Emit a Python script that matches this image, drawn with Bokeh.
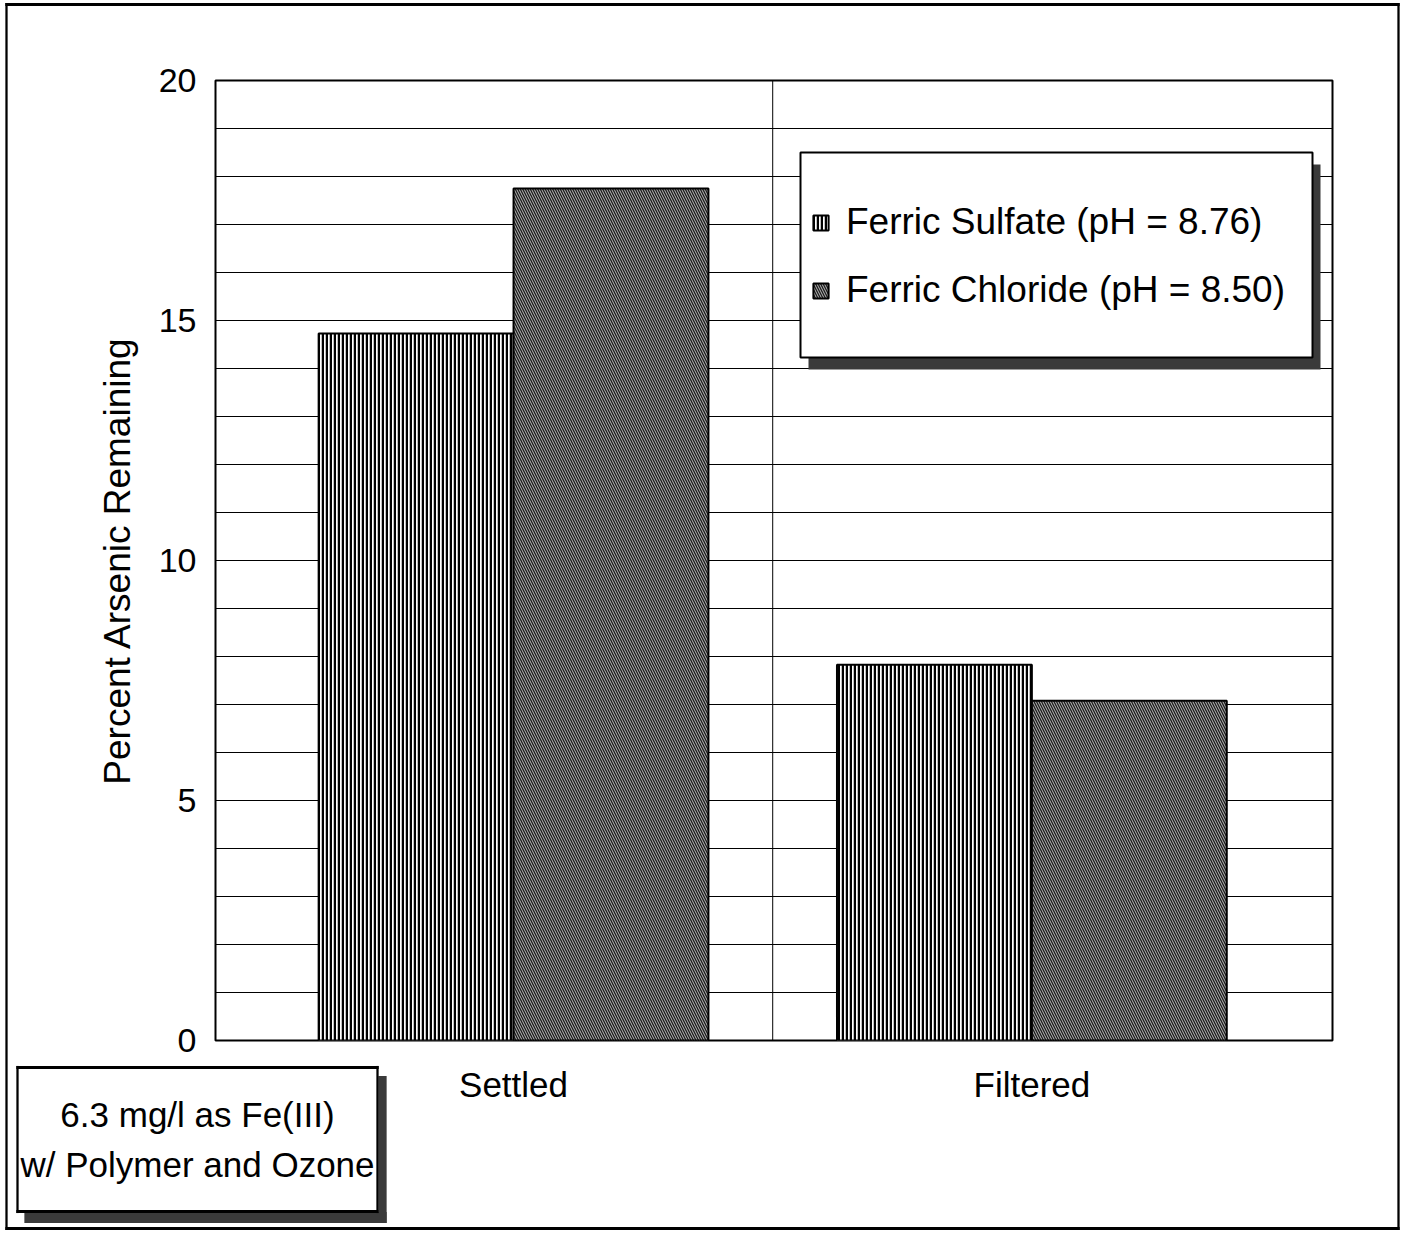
from bokeh.plotting import figure
from bokeh.models import (Range1d, FixedTicker, SingleIntervalTicker, Span, Legend, LegendItem,
                          BoxAnnotation, Label, ColumnDataSource)
from bokeh.embed import file_html
from bokeh.resources import INLINE

# ---- data ----
categories = ["Settled", "Filtered"]
series_names = ["Ferric Sulfate (pH = 8.76)", "Ferric Chloride (pH = 8.50)"]
ferric_sulfate = [14.73, 7.83]
ferric_chloride = [17.75, 7.08]
y_ticks = [0, 5, 10, 15, 20]
note_text = "6.3 mg/l as Fe(III)\nw/ Polymer and Ozone"
y_label = "Percent Arsenic Remaining"

FONT = "Liberation Sans"
W, H = 1400, 1232
BL, BR, BT, BB = 215, 68, 80, 192
BAR_W = 0.376
SHADOW = "#3a3a3a"

idx = list(range(len(categories)))

p = figure(width=W, height=H, output_backend="svg", toolbar_location=None,
           x_range=Range1d(-0.575, 1.58), y_range=Range1d(0, 20),
           min_border_left=BL, min_border_right=BR, min_border_top=BT, min_border_bottom=BB)
p.background_fill_color = "white"
p.border_fill_color = "white"
p.outline_line_color = "black"
p.outline_line_width = 2

src_s = ColumnDataSource(dict(x=[i - BAR_W / 2 for i in idx], top=ferric_sulfate))
src_c = ColumnDataSource(dict(x=[i + BAR_W / 2 for i in idx], top=ferric_chloride))

r1 = p.vbar(x="x", top="top", width=BAR_W, source=src_s,
            fill_color="white", line_color="black", line_width=2,
            hatch_pattern="vertical_line", hatch_color="black", hatch_scale=4, hatch_weight=2.5)
r2 = p.vbar(x="x", top="top", width=BAR_W, source=src_c,
            fill_color="#1c1c1c", line_color="black", line_width=2,
            hatch_pattern="left_diagonal_line", hatch_color="white", hatch_scale=5, hatch_weight=0.7)

# grid
p.xgrid.visible = False
p.ygrid.ticker = SingleIntervalTicker(interval=1)
p.ygrid.grid_line_color = "black"
p.ygrid.grid_line_width = 1
p.add_layout(Span(location=0.5, dimension="height", line_color="black", line_width=1, level="underlay"))

# axes
for ax in (p.xaxis[0], p.yaxis[0]):
    ax.axis_line_color = None
    ax.major_tick_line_color = None
    ax.minor_tick_line_color = None
    ax.major_tick_out = 0
    ax.major_tick_in = 0
    ax.major_label_text_font = FONT
    ax.major_label_text_color = "black"

p.yaxis.ticker = FixedTicker(ticks=y_ticks)
p.yaxis.major_label_text_font_size = "34px"
p.yaxis.major_label_standoff = 19
p.yaxis.axis_label = y_label
p.yaxis.axis_label_text_font = FONT
p.yaxis.axis_label_text_font_style = "normal"
p.yaxis.axis_label_text_font_size = "37px"
p.yaxis.axis_label_text_color = "black"
p.yaxis.axis_label_standoff = 18

p.xaxis.ticker = FixedTicker(ticks=idx)
p.xaxis.major_label_overrides = {i: c for i, c in zip(idx, categories)}
p.xaxis.major_label_text_font_size = "35px"
p.xaxis.major_label_standoff = 24


def sbox(left, right, top, bottom, **kw):
    return BoxAnnotation(left=left, right=right, top=top, bottom=bottom,
                         left_units="screen", right_units="screen",
                         top_units="screen", bottom_units="screen", **kw)


# legend box with shadow (frame-relative pixels)
p.add_layout(sbox(593, 1105, 876, 671, fill_color=SHADOW, fill_alpha=1, line_color=None))
p.add_layout(sbox(585, 1097, 888, 683, fill_color="white", fill_alpha=1,
                  line_color="black", line_alpha=1, line_width=2))

legend = Legend(items=[LegendItem(label=series_names[0], renderers=[r1]),
                       LegendItem(label=series_names[1], renderers=[r2])],
                location=(596, 728), padding=0, margin=0, spacing=24, label_height=44,
                glyph_width=19, glyph_height=19, label_standoff=16,
                label_text_font=FONT, label_text_font_size="37px", label_text_color="black",
                background_fill_alpha=0, border_line_color=None)
p.add_layout(legend)


# ---- decorations outside the frame: thin padded blank labels in canvas pixels ----
# (annotations in side panels are not clipped to the frame; thin strips keep panel sizes small)
def strip(x0, y0, x1, y1, color="black"):
    w, h = x1 - x0, y1 - y0
    panel = "above" if w >= h else "right"
    p.add_layout(Label(x=(x0 + x1) / 2, y=(y0 + y1) / 2, x_units="canvas", y_units="canvas",
                       text=" ", text_font_size="1px", text_align="center", text_baseline="middle",
                       text_color=color, background_fill_color=color, background_fill_alpha=1,
                       padding=dict(left=w // 2, right=w - w // 2, top=h // 2, bottom=h - h // 2)),
                 panel)


def framed(x0, y0, x1, y1, t=2):
    strip(x0, y0, x1, y0 + t)
    strip(x0, y1 - t, x1, y1)
    strip(x0, y0, x0 + t, y1)
    strip(x1 - t, y0, x1, y1)


# outer border of the whole picture
framed(5, 3, W - 1, H - 3)

# note box: shadow, border, text
NX0, NY0, NX1, NY1 = 16, 1066, 378, 1212
strip(NX1, NY0 + 10, NX1 + 8, NY1 + 10, SHADOW)
strip(NX0 + 8, NY1, NX1 + 8, NY1 + 10, SHADOW)
framed(NX0, NY0, NX1, NY1)
p.add_layout(Label(x=(NX0 + NX1) / 2, y=(NY0 + NY1) / 2, x_units="canvas", y_units="canvas",
                   text=note_text, text_align="center", text_baseline="middle", text_font=FONT,
                   text_font_size="35px", text_color="black", text_line_height=1.3), "below")

open("out.html", "w").write(file_html(p, INLINE))
